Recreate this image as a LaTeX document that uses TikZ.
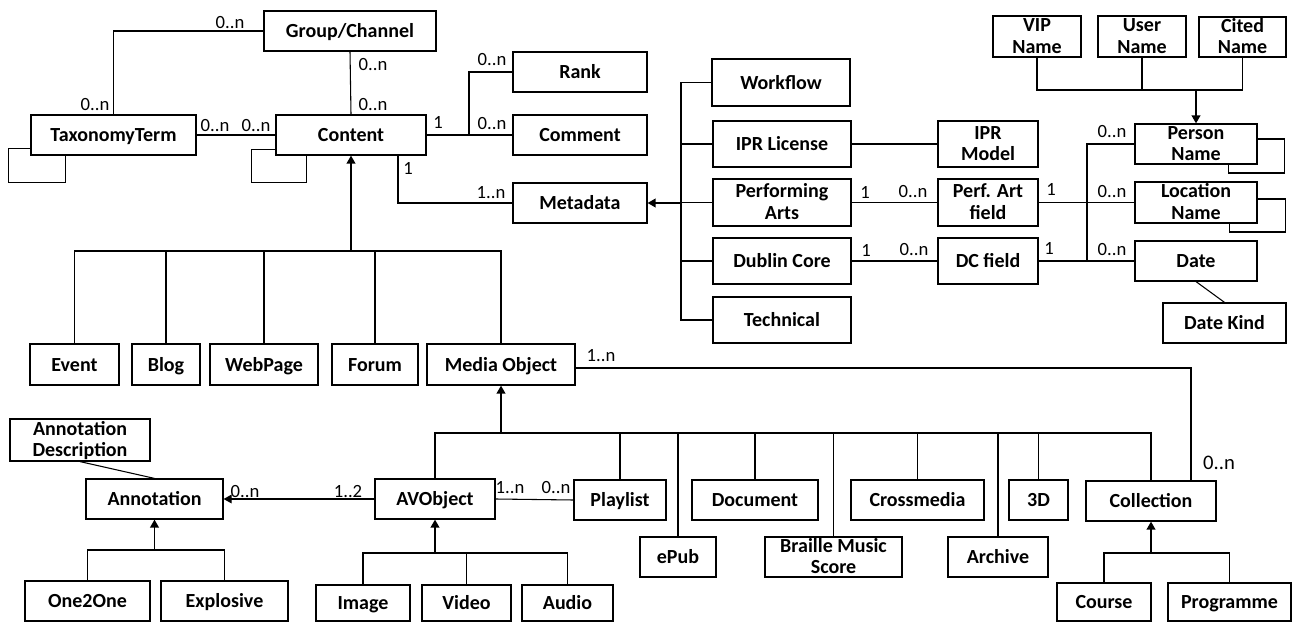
\documentclass[tikz,border=0pt]{standalone}
\usepackage{fontspec}
\setmainfont{Carlito}
\usetikzlibrary{arrows.meta,calc}
\tikzset{
 box/.style={draw, line width=0.9pt, font=\bfseries\fontsize{15}{16.5}\selectfont, align=center, inner sep=0pt},
 conn/.style={line width=0.8pt},
 inh/.style={line width=1.3pt},
 inharrow/.style={line width=1.3pt, -{Triangle[length=6pt,width=6.5pt]}},
 mult/.style={font=\fontsize{14}{16}\selectfont, inner sep=0pt},
}
\newcommand\mystrut{\vrule height 14pt depth 4pt width 0pt}
\newcommand\mytstrut{\vrule height 11.5pt depth 0pt width 0pt}
\newcommand\mybstrut{\vrule height 0pt depth 2.5pt width 0pt}
\newcommand\bx[6]{\node[box, minimum width={(#4-#2)*0.75pt}, minimum height={(#5-#3)*0.75pt}] (#1) at ({(#2+#4)/2},{(#3+#5)/2}) {\mystrut#6\mystrut};}
\newcommand\bxt[7]{\node[box, font=\bfseries\fontsize{15}{16}\selectfont, minimum width={(#4-#2)*0.75pt}, minimum height={(#5-#3)*0.75pt}] (#1) at ({(#2+#4)/2},{(#3+#5)/2}) {\mytstrut#6\\#7\mybstrut};}
\begin{document}
\begin{tikzpicture}[x=0.75pt,y=-0.75pt]
\useasboundingbox (0,0) rectangle (1298,623);
% boxes
\bx{Group}{264}{11}{436}{51}{Group/Channel}
\bx{Taxonomy}{31}{115}{196}{155}{TaxonomyTerm}
\bx{Content}{276}{115}{426}{155}{Content}
\bx{Rank}{513}{52}{647}{92}{Rank}
\bx{Comment}{513}{115}{647}{155}{Comment}
\bx{Metadata}{513}{183}{647}{223}{Metadata}
\bx{Workflow}{712}{59}{850}{106}{Workflow}
\bx{IPR}{713}{121}{851}{167}{IPR License}
\bxt{PerfArts}{713}{179}{851}{226}{Performing}{Arts}
\bx{Dublin}{713}{238}{851}{284}{Dublin Core}
\bx{Technical}{713}{297}{851}{343}{Technical}
\bxt{IPRModel}{938}{121}{1038}{167}{IPR}{Model}
\bxt{PerfField}{938}{179}{1038}{226}{Perf. Art}{field}
\bx{DCfield}{938}{238}{1038}{284}{DC field}
\bxt{VIP}{993}{16}{1081}{57}{VIP}{Name}
\bxt{User}{1098}{16}{1186}{57}{User}{Name}
\bxt{Cited}{1199}{17}{1286}{57}{Cited}{Name}
\bxt{Person}{1135}{124}{1257}{164}{Person}{Name}
\bxt{Location}{1135}{182}{1257}{223}{Location}{Name}
\bx{Date}{1135}{241}{1257}{281}{Date}
\bx{DateKind}{1163}{303}{1286}{343}{Date Kind}
\bx{Event}{30}{344}{119}{385}{Event}
\bx{Blog}{132}{344}{200}{385}{Blog}
\bx{WebPage}{210}{344}{318}{385}{WebPage}
\bx{Forum}{332}{344}{418}{385}{Forum}
\bx{MediaObj}{427}{344}{575}{385}{Media Object}
\bxt{AnnDesc}{10}{419}{150}{461}{Annotation}{Description}
\bx{Annotation}{86}{479}{223}{519}{Annotation}
\bx{AVObject}{375}{479}{495}{519}{AVObject}
\bx{Playlist}{574}{480}{666}{520}{Playlist}
\bx{Document}{692}{480}{818}{520}{Document}
\bx{Crossmedia}{851}{480}{984}{520}{Crossmedia}
\bx{ThreeD}{1009}{480}{1068}{520}{3D}
\bx{Collection}{1086}{481}{1216}{521}{Collection}
\bx{ePub}{640}{537}{716}{577}{ePub}
\bxt{Braille}{765}{537}{902}{577}{Braille Music}{Score}
\bx{Archive}{948}{537}{1048}{577}{Archive}
\bx{One2One}{25}{581}{150}{621}{One2One}
\bx{Explosive}{161}{581}{288}{621}{Explosive}
\bx{Image}{316}{585}{410}{621}{Image}
\bx{Video}{422}{585}{511}{621}{Video}
\bx{Audio}{522}{585}{613}{621}{Audio}
\bx{Course}{1057}{583}{1151}{621}{Course}
\bx{Programme}{1168}{583}{1291}{621}{Programme}
% coordinates
\coordinate (cr) at (469,135);
\coordinate (mtr) at (681,0);
\coordinate (ptr) at (1087,0);
\coordinate (nbar) at (0,90);
\coordinate (cbar) at (0,251);
\coordinate (mbar) at (0,433);
\coordinate (abar) at (0,550);
\coordinate (vbar) at (0,553);
\coordinate (colbar) at (0,553);
% associations
\draw[conn] (Group.west) -| (Taxonomy.north);
\draw[conn] (Group.south) -- (Content.north);
\draw[conn] (Taxonomy.east) -- (Content.west);
\draw[conn] (Taxonomy.south west) ++(0,-7) -- ++(-22,0) -- ++(0,34) -- ++(57,0) -- ++(0,-27);
\draw[conn] (Content.south west) ++(0,-6) -- ++(-24,0) -- ++(0,33) -- ++(55,0) -- ++(0,-27);
\draw[conn] (Content.east) -- (cr) |- (Rank.west);
\draw[conn] (cr) -- (Comment.west);
\draw[conn] ($(Content.south)+(47,0)$) |- (Metadata.west);
\draw[conn] (Workflow.west) -- (Workflow.west -| mtr) -- (Technical.west -| mtr) -- (Technical.west);
\draw[conn] (IPR.west) -- (IPR.west -| mtr);
\draw[conn] (PerfArts.west) -- (PerfArts.west -| mtr);
\draw[conn] (Dublin.west) -- (Dublin.west -| mtr);
\draw[inharrow] (Metadata.east -| mtr) -- (Metadata.east);
\draw[conn] (IPR.east) -- (IPRModel.west);
\draw[conn] (PerfArts.east) -- (PerfField.west);
\draw[conn] (Dublin.east) -- (DCfield.west);
\draw[inh] (PerfField.east) -- (PerfField.east -| ptr);
\draw[inh] (DCfield.east) -- (DCfield.east -| ptr);
\draw[conn] (Person.west) -- (Person.west -| ptr) -- (Date.west -| ptr) -- (Date.west);
\draw[conn] (Location.west) -- (Location.west -| ptr);
\draw[conn] (Person.east) ++(0,-5) -- ++(27,0) -- ++(0,34) -- ++(-56,0) -- ++(0,-9);
\draw[conn] (Location.east) ++(0,-3.5) -- ++(28,0) -- ++(0,33) -- ++(-56,0) -- ++(0,-9.5);
\draw[conn] (VIP.south) |- (Cited.south |- nbar) -- (Cited.south);
\draw[conn] (User.south) -- (User.south |- nbar);
\draw[inharrow] (Person.north |- nbar) -- (Person.north);
\draw[conn] (Date.south) -- (DateKind.north);
% content generalization
\draw[inh] (Event.north) |- (MediaObj.north |- cbar) -- (MediaObj.north);
\foreach \n in {Blog,WebPage,Forum} \draw[conn] (\n.north) -- (\n.north |- cbar);
\draw[inharrow] (Content.south |- cbar) -- (Content.south);
% media object
\draw[conn] ($(MediaObj.east)+(0,3.5)$) -| ($(Collection.north)+(40,0)$);
\draw[inh] (AVObject.north) |- (Collection.north |- mbar) -- (Collection.north);
\foreach \n in {Playlist,ePub,Document,Braille,Crossmedia,Archive,ThreeD} \draw[conn] (\n.north) -- (\n.north |- mbar);
\draw[inharrow] (MediaObj.south |- mbar) -- (MediaObj.south);
\draw[inharrow, line width=0.8pt] (AVObject.west) -- (Annotation.east);
\draw[conn] (AVObject.east) -- (Playlist.west);
\draw[conn] (AnnDesc.south) -- (Annotation.north);
\draw[conn] (One2One.north) |- (Explosive.north |- abar) -- (Explosive.north);
\draw[inharrow] (Annotation.south |- abar) -- (Annotation.south);
\draw[conn] (Image.north) |- (Audio.north |- vbar) -- (Audio.north);
\draw[conn] (Video.north) -- (Video.north |- vbar);
\draw[inharrow] (AVObject.south |- vbar) -- (AVObject.south);
\draw[conn] (Course.north) |- (Programme.north |- colbar) -- (Programme.north);
\draw[inharrow] (Collection.south |- colbar) -- (Collection.south);
% multiplicities
\node[mult] (m1) at (230,23) {0..n};
\node[mult] (m2) at (95,105) {0..n};
\node[mult] (m3) at (373,65) {0..n};
\node[mult] (m4) at (373,105) {0..n};
\node[mult] (m5) at (215,126) {0..n};
\node[mult] (m6) at (256,126) {0..n};
\node[mult] (m7) at (438,122) {1};
\node[mult] (m8) at (492,60) {0..n};
\node[mult] (m9) at (492,124) {0..n};
\node[mult] (m10) at (408,168) {1};
\node[mult] (m11) at (491,193) {1..n};
\node[mult] (m12) at (865,192) {1};
\node[mult] (m13) at (913,192) {0..n};
\node[mult] (m14) at (866,250) {1};
\node[mult] (m15) at (914,250) {0..n};
\node[mult] (m16) at (1051,189) {1};
\node[mult] (m17) at (1049,248) {1};
\node[mult] (m18) at (1112,132) {0..n};
\node[mult] (m19) at (1112,192) {0..n};
\node[mult] (m20) at (1112,250) {0..n};
\node[mult] (m21) at (601,356) {1..n};
\node[mult, font=\fontsize{15.5}{17}\selectfont] (m22) at (1219,463) {0..n};
\node[mult] (m23) at (245,492) {0..n};
\node[mult] (m24) at (348,492) {1..2};
\node[mult] (m25) at (510,488) {1..n};
\node[mult] (m26) at (556,488) {0..n};
\end{tikzpicture}
\end{document}
